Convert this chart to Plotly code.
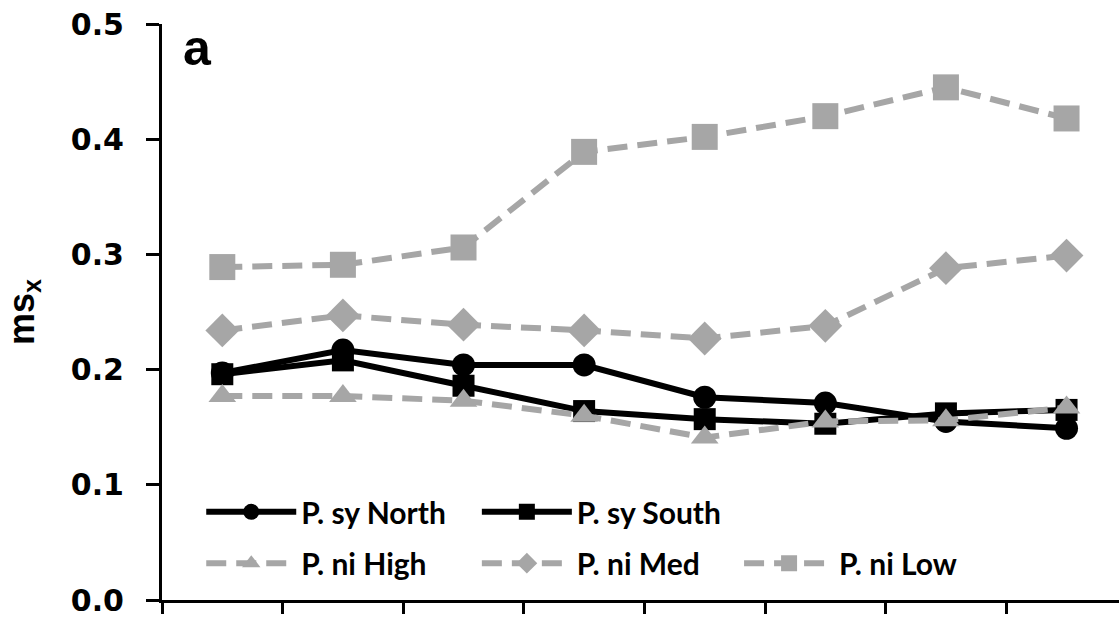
import plotly.graph_objects as go

# Sampling periods (x positions, unlabeled on the axis)
periods = [1, 2, 3, 4, 5, 6, 7, 8]

# ms_x per population
sy_north = [0.197, 0.217, 0.204, 0.204, 0.176, 0.171, 0.155, 0.149]
sy_south = [0.196, 0.208, 0.186, 0.164, 0.157, 0.153, 0.162, 0.165]
ni_high = [0.177, 0.177, 0.173, 0.160, 0.141, 0.155, 0.156, 0.167]
ni_med = [0.234, 0.247, 0.239, 0.234, 0.227, 0.238, 0.288, 0.299]
ni_low = [0.289, 0.291, 0.306, 0.389, 0.402, 0.420, 0.445, 0.418]

series_names = ["P. sy North", "P. sy South", "P. ni High", "P. ni Med", "P. ni Low"]
y_ticks = [0.0, 0.1, 0.2, 0.3, 0.4, 0.5]

BLACK = "#000000"
GREY = "#A6A6A6"

styles = [
    dict(color=BLACK, dash="solid", symbol="circle", size=23),
    dict(color=BLACK, dash="solid", symbol="square", size=22),
    dict(color=GREY, dash="20px,10px", symbol="triangle-up", size=24),
    dict(color=GREY, dash="20px,10px", symbol="diamond", size=26),
    dict(color=GREY, dash="20px,10px", symbol="square", size=26),
]

# legend anchor points (paper coords) for each entry
legend_pos = [
    (0.041, 0.153),
    (0.329, 0.153),
    (0.041, 0.064),
    (0.329, 0.064),
    (0.603, 0.064),
]

fig = go.Figure()
all_series = [sy_north, sy_south, ni_high, ni_med, ni_low]
legend_keys = ["legend", "legend2", "legend3", "legend4", "legend5"]
for name, vals, st, lk in zip(series_names, all_series, styles, legend_keys):
    fig.add_trace(go.Scatter(
        x=periods, y=vals, name=name, mode="lines+markers",
        line=dict(color=st["color"], width=6, dash=st["dash"]),
        marker=dict(symbol=st["symbol"], size=st["size"], color=st["color"],
                    line=dict(width=0)),
        legend=lk, showlegend=True,
    ))

legend_font = dict(family="Lato", size=30, color="black", weight="bold")
legend_layouts = {}
for lk, (lx, ly) in zip(legend_keys, legend_pos):
    legend_layouts[lk] = dict(
        x=lx, y=ly, xanchor="left", yanchor="middle",
        bgcolor="rgba(0,0,0,0)", borderwidth=0,
        font=legend_font, itemwidth=90, orientation="h",
    )

fig.update_layout(
    width=1119, height=622,
    margin=dict(l=162, r=0, t=24, b=22),
    paper_bgcolor="white", plot_bgcolor="white",
    showlegend=True,
    **legend_layouts,
)

fig.update_xaxes(
    range=[0.5, 8.435],
    tickmode="array",
    tickvals=[p - 0.5 for p in periods] + [8.5],
    showticklabels=False,
    ticks="outside", ticklen=11, tickwidth=3, tickcolor="black",
    showline=True, linewidth=3, linecolor="black",
    showgrid=False, zeroline=False,
)

fig.update_yaxes(
    range=[0, 0.5],
    tickmode="array",
    tickvals=y_ticks,
    ticktext=[f"{v:.1f}" for v in y_ticks],
    ticks="outside", ticklen=13, tickwidth=3, tickcolor="black",
    ticklabelstandoff=16,
    tickfont=dict(family="DejaVu Sans", size=30, color="black", weight="bold"),
    showline=True, linewidth=3, linecolor="black",
    showgrid=False, zeroline=False,
    title=dict(text="ms<sub>x</sub>",
               font=dict(family="Liberation Sans", size=36, color="black", weight="bold"),
               standoff=26),
)

fig.add_annotation(
    text="a", xref="paper", yref="paper", x=0.020, y=1.01,
    xanchor="left", yanchor="top", showarrow=False,
    font=dict(family="Liberation Sans", size=50, color="black", weight="bold"),
)

fig.write_html("out.html")
